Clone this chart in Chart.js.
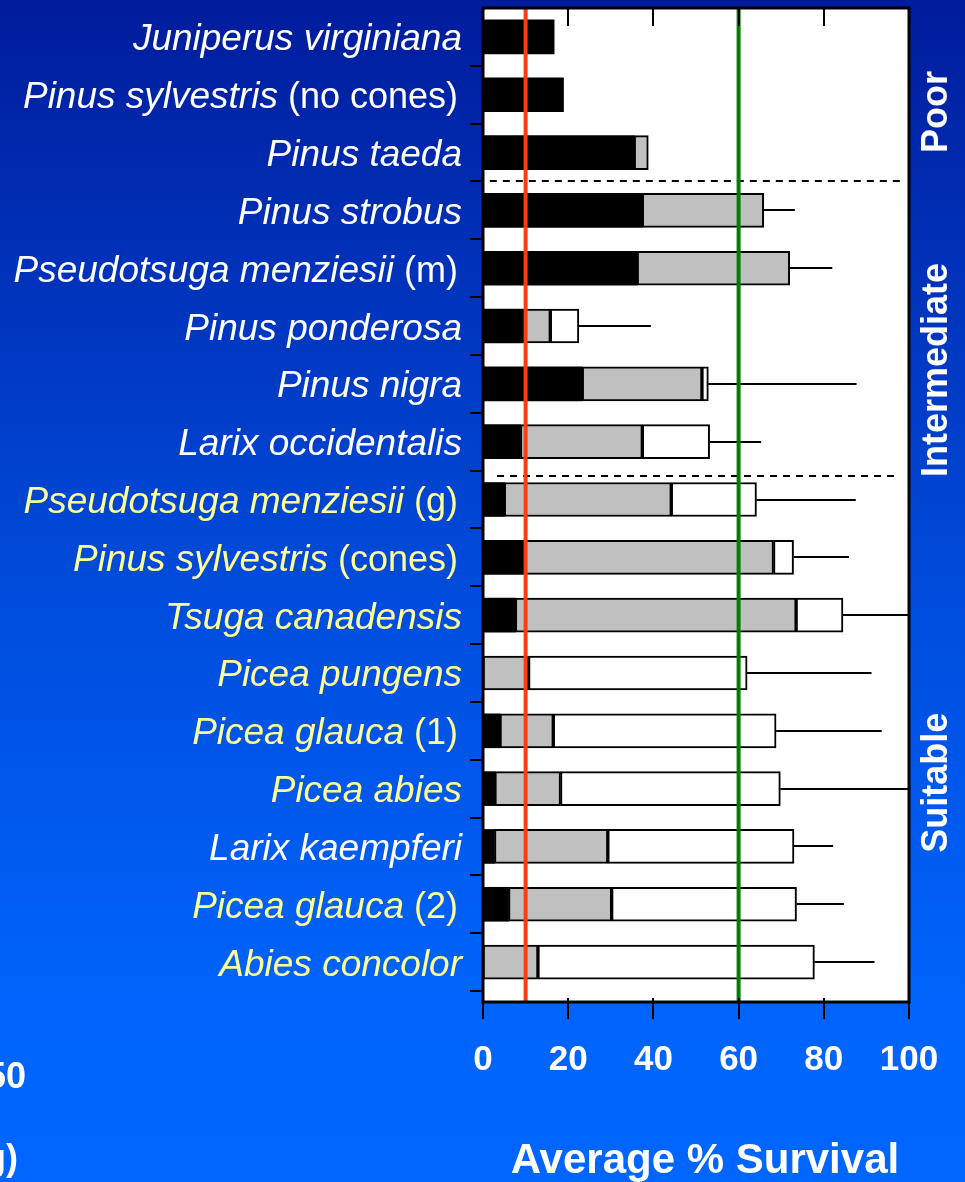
<!DOCTYPE html>
<html><head><meta charset="utf-8">
<script src="https://cdn.jsdelivr.net/npm/chart.js@4/dist/chart.umd.min.js"></script>
<style>html,body{margin:0;padding:0;background:#0040d0;overflow:hidden}#wrap{width:965px;height:1182px;position:relative}</style>
</head><body><div id="wrap"><canvas id="c" width="965" height="1182"></canvas></div>
<script>
// ---- data ----
const species = ["Juniperus virginiana","Pinus sylvestris","Pinus taeda","Pinus strobus","Pseudotsuga menziesii","Pinus ponderosa","Pinus nigra","Larix occidentalis","Pseudotsuga menziesii","Pinus sylvestris","Tsuga canadensis","Picea pungens","Picea glauca","Picea abies","Larix kaempferi","Picea glauca","Abies concolor"];
const qualifiers = ["","(no cones)","","","(m)","","","","(g)","(cones)","","","(1)","","","(2)",""];
const highlighted = [0,0,0,0,0,0,0,0,1,1,1,1,1,1,0,1,1];
const blackEnd = [16.7,18.9,35.5,37.4,36.2,9.3,23.3,8.8,5.0,9.9,7.6,null,4.0,2.8,2.7,6.0,null];
const grayEnd  = [null,null,38.8,65.9,72.0,15.8,51.4,37.4,44.2,68.2,73.5,10.7,16.5,18.2,29.3,30.2,12.9];
const whiteEnd = [null,null,null,null,null,22.5,52.9,53.2,64.2,72.9,84.5,62.0,68.8,69.8,73.0,73.6,77.8];
const errorEnd = [null,null,null,73.2,82.0,39.4,87.7,65.3,87.5,85.9,100,91.2,93.6,100,82.2,84.7,91.9];
const thresholdLow = 10;
const thresholdHigh = 60;
const xTicks = [0,20,40,60,80,100];
const groupNames = ["Poor","Intermediate","Suitable"];
const xTitle = "Average % Survival";
const edgeFragments = ["50","g)"];

const FONT = '"Liberation Sans", Arial, Helvetica, sans-serif';
const rows = species.map((_, i) => i);
const seg = (startOf, endArr) => rows.filter(i => endArr[i] != null).map(i => ({y: i, x: [startOf(i), endArr[i]]}));

const blackData = seg(() => 0, blackEnd);
const grayData = seg(i => blackEnd[i] ?? 0, grayEnd);
const whiteData = seg(i => grayEnd[i] ?? blackEnd[i] ?? 0, whiteEnd);

const decor = {
  id: 'decor',
  beforeDraw(chart) {
    const {ctx, chartArea: a, width, height} = chart;
    ctx.save();
    const g = ctx.createLinearGradient(0, 0, 0, height);
    g.addColorStop(0, '#001c9c');
    g.addColorStop(0.5, '#004cdc');
    g.addColorStop(0.85, '#0064fc');
    g.addColorStop(1, '#0066ff');
    ctx.fillStyle = g;
    ctx.fillRect(0, 0, width, height);
    ctx.fillStyle = '#ffffff';
    ctx.fillRect(a.left, a.top, a.right - a.left, a.bottom - a.top);
    ctx.restore();
  },
  afterDatasetsDraw(chart, args, opts) {
    const {ctx, chartArea: a, scales: {x, y}} = chart;
    ctx.save();
    ctx.beginPath();
    ctx.rect(a.left, a.top, a.right - a.left, a.bottom - a.top);
    ctx.clip();
    // error bars
    ctx.strokeStyle = '#000';
    ctx.lineWidth = 2;
    rows.forEach(i => {
      if (errorEnd[i] == null) return;
      const from = whiteEnd[i] ?? grayEnd[i] ?? blackEnd[i] ?? 0;
      const py = Math.round(y.getPixelForValue(i));
      ctx.beginPath();
      ctx.moveTo(x.getPixelForValue(from), py);
      ctx.lineTo(x.getPixelForValue(errorEnd[i]), py);
      ctx.stroke();
    });
    // group separators
    ctx.setLineDash([7, 6]);
    opts.breaks.forEach(b => {
      const py = Math.round(y.getPixelForValue(b.at));
      ctx.beginPath();
      ctx.moveTo(x.getPixelForValue(b.from), py);
      ctx.lineTo(x.getPixelForValue(b.to), py);
      ctx.stroke();
    });
    ctx.setLineDash([]);
    // threshold lines
    ctx.lineWidth = 4;
    [[thresholdLow, '#ff3c14'], [thresholdHigh, '#008000']].forEach(([v, c]) => {
      const px = x.getPixelForValue(v);
      ctx.strokeStyle = c;
      ctx.beginPath();
      ctx.moveTo(px, a.top);
      ctx.lineTo(px, a.bottom);
      ctx.stroke();
    });
    ctx.restore();
    // frame and ticks
    ctx.save();
    ctx.strokeStyle = '#000';
    ctx.lineWidth = 3;
    ctx.strokeRect(a.left, a.top, a.right - a.left, a.bottom - a.top);
    ctx.lineWidth = 2;
    xTicks.forEach(v => {
      const px = Math.round(x.getPixelForValue(v));
      ctx.beginPath();
      ctx.moveTo(px, a.bottom - 4);
      ctx.lineTo(px, a.bottom + 17);
      ctx.stroke();
      if (v > x.min && v < x.max) {
        ctx.beginPath();
        ctx.moveTo(px, a.top);
        ctx.lineTo(px, a.top + 18);
        ctx.stroke();
      }
    });
    rows.forEach(i => {
      const py = Math.round(y.getPixelForValue(i + 0.5));
      ctx.beginPath();
      ctx.moveTo(a.left - 13, py);
      ctx.lineTo(a.left, py);
      ctx.stroke();
    });
    ctx.restore();
  },
  afterDraw(chart, args, opts) {
    const {ctx, scales: {y}} = chart;
    ctx.save();
    ctx.textBaseline = 'alphabetic';
    ctx.textAlign = 'right';
    rows.forEach(i => {
      const py = y.getPixelForValue(i) + 13.5;
      ctx.fillStyle = highlighted[i] ? '#ffff99' : '#ffffff';
      let xr = 462;
      if (qualifiers[i]) {
        ctx.font = `36px ${FONT}`;
        ctx.fillText(qualifiers[i], 458, py);
        xr = 458 - ctx.measureText(qualifiers[i]).width - ctx.measureText(' ').width;
      }
      ctx.font = `italic 37px ${FONT}`;
      ctx.fillText(species[i], xr, py);
    });
    // group labels
    ctx.fillStyle = '#ffffff';
    ctx.font = `bold 36px ${FONT}`;
    ctx.textAlign = 'center';
    groupNames.forEach((name, k) => {
      ctx.save();
      ctx.translate(947, y.getPixelForValue(opts.groupCenters[k]));
      ctx.rotate(-Math.PI / 2);
      ctx.fillText(name, 0, 0);
      ctx.restore();
    });
    // axis title
    ctx.font = `bold 42px ${FONT}`;
    ctx.fillText(xTitle, 705, 1173);
    // cut-off fragments at left edge
    ctx.textAlign = 'right';
    ctx.font = `bold 36px ${FONT}`;
    ctx.fillText(edgeFragments[0], 26, 1088);
    ctx.fillText(edgeFragments[1], 18, 1170);
    ctx.restore();
  }
};

new Chart(document.getElementById('c'), {
  type: 'bar',
  data: {
    datasets: [
      {label: 'black', data: blackData, backgroundColor: '#000000', borderWidth: 0},
      {label: 'gray', data: grayData, backgroundColor: '#c0c0c0', borderColor: '#000000', borderWidth: 2, borderSkipped: false},
      {label: 'white', data: whiteData, backgroundColor: '#ffffff', borderColor: '#000000', borderWidth: 2, borderSkipped: false}
    ]
  },
  options: {
    indexAxis: 'y',
    responsive: false,
    animation: false,
    events: [],
    datasets: {bar: {grouped: false, barThickness: 34}},
    layout: {padding: {left: 483, right: 56, top: 8, bottom: 0}},
    scales: {
      y: {type: 'linear', reverse: true, min: -0.5, max: 16.69, offset: false, display: false},
      x: {
        type: 'linear', min: 0, max: 100,
        afterBuildTicks: s => { s.ticks = xTicks.map(v => ({value: v})); },
        afterFit: s => { s.height = 180; s.paddingLeft = 0; s.paddingRight = 0; },
        grid: {display: false, drawTicks: false},
        border: {display: false},
        ticks: {color: '#ffffff', font: {family: FONT, size: 35, weight: 'bold'}, padding: 37, autoSkip: false, maxRotation: 0}
      }
    },
    plugins: {
      legend: {display: false},
      tooltip: {enabled: false},
      decor: {
        breaks: [{at: 2.5, from: 1.6, to: 99}, {at: 7.6, from: 3.3, to: 97.2}],
        groupCenters: [1.3, 5.76, 12.9]
      }
    }
  },
  plugins: [decor]
});
</script>
</body></html>
